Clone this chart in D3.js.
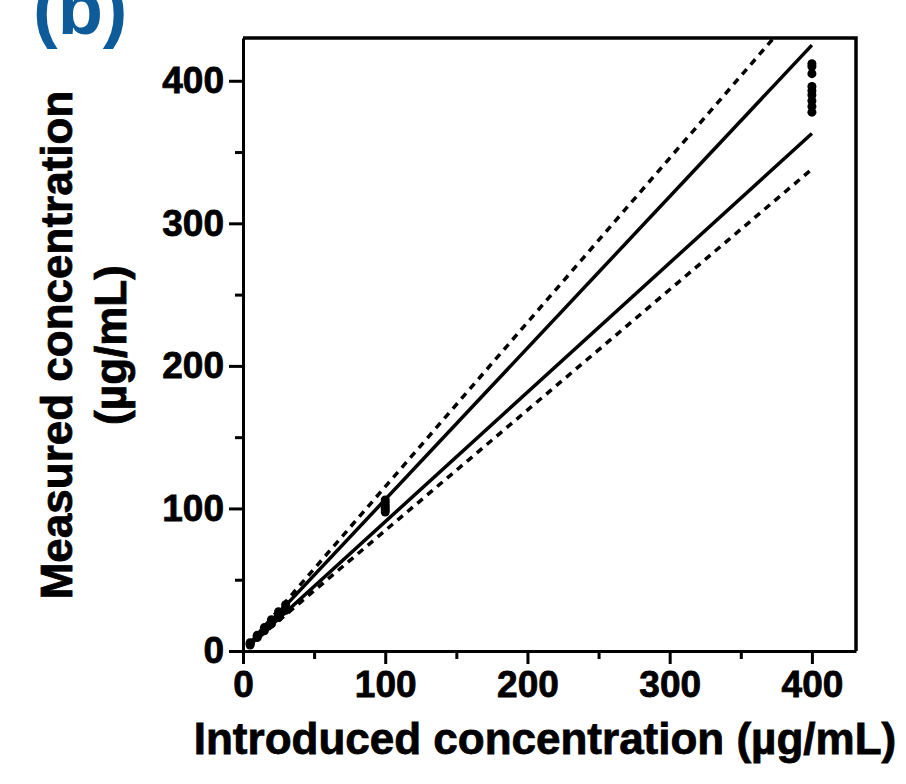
<!DOCTYPE html>
<meta charset="utf-8">
<style>
body { margin: 0; background: #fff; }
text { font-family: "Liberation Sans", Arial, sans-serif; font-weight: bold; }
.axis path, .axis line { stroke: #000; stroke-width: 3px; }
.axis text { font-size: 37px; fill: #000; stroke: #000; stroke-width: 0.8px; }
.title { stroke: #000; stroke-width: 0.8px; }
</style>
<body>
<script src="https://d3js.org/d3.v7.min.js"></script>
<script>

const width = 906, height = 784;
const margin = {top: 38, right: 50, bottom: 133, left: 243};

// replicate measurements: introduced -> measured
const pts5 = [4.2, 5, 5.8];
const pts10 = [9.4, 10.2, 11];
const pts15 = [14.2, 15.3, 16.4];
const pts20 = [19, 20.5, 22];
const pts25 = [23.5, 25.5, 27.5];
const pts30 = [28.5, 30.5, 32.5];
const pts100 = [97.5, 99, 100.5, 102, 104, 106];
const pts400 = [412, 410, 405, 396, 393, 390, 386, 382, 378];

// band lines (start/end)
const upperSolid = [[4, 4.3], [400, 425]];
const lowerSolid = [[4, 3.6], [400, 363]];
const upperDashed = [[4, 4.6], [400, 461]];
const lowerDashed = [[4, 3.4], [400, 338]];

const majorTicks = [0, 100, 200, 300, 400];
const minorTicks = [50, 150, 250, 350];

const points = [].concat(
  pts5.map(v => [5, v]),
  pts10.map(v => [10, v]),
  pts15.map(v => [15, v]),
  pts20.map(v => [20, v]),
  pts25.map(v => [25, v]),
  pts30.map(v => [30, v]),
  pts100.map(v => [100, v]),
  pts400.map(v => [400, v])
);

const innerWidth = width - margin.left - margin.right;
const innerHeight = height - margin.top - margin.bottom;

const x = d3.scaleLinear().domain([0, 431]).range([0, innerWidth]);
const y = d3.scaleLinear().domain([0, 430]).range([innerHeight, 0]);

const svg = d3.select("body").append("svg")
    .attr("width", width)
    .attr("height", height);

svg.append("text")
    .attr("x", 33)
    .attr("y", 34)
    .attr("fill", "#0d5b98")
    .style("font-size", "74px")
    .text("(b)");

const g = svg.append("g")
    .attr("transform", `translate(${margin.left},${margin.top})`);

g.append("clipPath").attr("id", "clip")
  .append("rect")
    .attr("width", innerWidth)
    .attr("height", innerHeight);

// frame top & right
g.append("path")
    .attr("d", `M0,0H${innerWidth}V${innerHeight}`)
    .attr("fill", "none")
    .attr("stroke", "#000")
    .attr("stroke-width", 3.5);

const line = d3.line().x(d => x(d[0])).y(d => y(d[1]));

const plot = g.append("g").attr("clip-path", "url(#clip)");

[upperSolid, lowerSolid].forEach(l => {
  plot.append("path")
      .attr("d", line(l))
      .attr("fill", "none")
      .attr("stroke", "#000")
      .attr("stroke-width", 3.5);
});

[upperDashed, lowerDashed].forEach(l => {
  plot.append("path")
      .attr("d", line(l))
      .attr("fill", "none")
      .attr("stroke", "#000")
      .attr("stroke-width", 3.5)
      .attr("stroke-dasharray", "7 6");
});

plot.selectAll(".dot")
    .data(points)
  .enter().append("circle")
    .attr("class", "dot")
    .attr("cx", d => x(d[0]))
    .attr("cy", d => y(d[1]))
    .attr("r", 4.5)
    .attr("fill", "#000");

// axes
g.append("g")
    .attr("class", "axis")
    .attr("transform", `translate(0,${innerHeight})`)
    .call(d3.axisBottom(x).tickValues(majorTicks).tickSize(13).tickSizeOuter(0).tickPadding(7));

g.append("g")
    .attr("class", "axis")
    .attr("transform", `translate(0,${innerHeight})`)
    .call(d3.axisBottom(x).tickValues(minorTicks).tickSize(8).tickFormat(""))
    .select(".domain").remove();

g.append("g")
    .attr("class", "axis")
    .call(d3.axisLeft(y).tickValues(majorTicks).tickSize(14).tickSizeOuter(0).tickPadding(5));

g.append("g")
    .attr("class", "axis")
    .call(d3.axisLeft(y).tickValues(minorTicks).tickSize(8).tickFormat(""))
    .select(".domain").remove();

// axis titles
svg.append("text")
    .attr("class", "title")
    .attr("x", 545)
    .attr("y", 754)
    .attr("text-anchor", "middle")
    .style("font-size", "44px")
    .text("Introduced concentration (µg/mL)");

svg.append("text")
    .attr("class", "title")
    .attr("transform", "translate(72,345) rotate(-90)")
    .attr("text-anchor", "middle")
    .style("font-size", "44px")
    .text("Measured concentration");

svg.append("text")
    .attr("class", "title")
    .attr("transform", "translate(126,345) rotate(-90)")
    .attr("text-anchor", "middle")
    .style("font-size", "44px")
    .text("(µg/mL)");

</script>
